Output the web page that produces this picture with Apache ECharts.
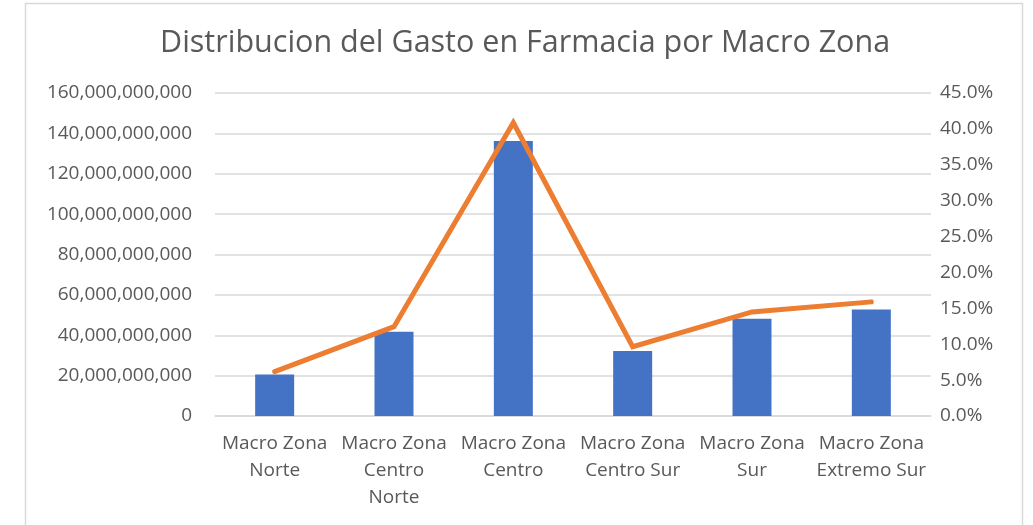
<!DOCTYPE html>
<html>
<head>
<meta charset="utf-8">
<script src="https://cdn.jsdelivr.net/npm/echarts@6/dist/echarts.min.js"></script>
<style>html,body{margin:0;padding:0;background:#fff}#c{width:1033px;height:525px}</style>
</head>
<body>
<div id="c"></div>
<script>
const categories = ['Macro Zona\nNorte', 'Macro Zona\nCentro\nNorte', 'Macro Zona\nCentro', 'Macro Zona\nCentro Sur', 'Macro Zona\nSur', 'Macro Zona\nExtremo Sur'];
const gasto = [20.6e9, 41.7e9, 136.2e9, 32.2e9, 48.2e9, 52.8e9];
const porcentaje = [0.0617, 0.1244, 0.4086, 0.0966, 0.145, 0.159];
const titleText = 'Distribucion del Gasto en Farmacia por Macro Zona';

const chart = echarts.init(document.getElementById('c'), null, {renderer: 'canvas'});
const font = '"Open Sans", sans-serif';
chart.setOption({
  animation: false,
  backgroundColor: '#fff',
  title: {
    text: titleText, left: 155, top: 23,
    textStyle: {fontFamily: font, fontSize: 30.5, fontWeight: 'normal', color: '#595959'}
  },
  graphic: [{
    type: 'rect', shape: {x: 25.5, y: 3.5, width: 997, height: 540},
    style: {fill: 'none', stroke: '#d9d9d9', lineWidth: 1.5}, silent: true
  }],
  grid: {left: 215, right: 102, top: 93, bottom: 109, containLabel: false},
  xAxis: {
    type: 'category', data: categories,
    axisLine: {lineStyle: {color: '#d9d9d9', width: 1.5}},
    axisTick: {show: false},
    axisLabel: {fontFamily: font, fontSize: 19, color: '#595959', lineHeight: 27, margin: 14, interval: 0}
  },
  yAxis: [{
    type: 'value', min: 0, max: 160e9, interval: 20e9,
    axisLine: {show: false}, axisTick: {show: false},
    splitLine: {lineStyle: {color: '#d9d9d9', width: 1.5}},
    axisLabel: {fontFamily: font, fontSize: 19, color: '#595959', margin: 23,
      formatter: v => v.toLocaleString('en-US')}
  }, {
    type: 'value', min: 0, max: 0.45, interval: 0.05,
    axisLine: {show: false}, axisTick: {show: false}, splitLine: {show: false},
    axisLabel: {fontFamily: font, fontSize: 19, color: '#595959', margin: 9,
      formatter: v => (v * 100).toFixed(1) + '%'}
  }],
  series: [{
    type: 'bar', data: gasto, yAxisIndex: 0, barWidth: 39,
    itemStyle: {color: '#4472C4'}
  }, {
    type: 'line', data: porcentaje, yAxisIndex: 1, symbol: 'none',
    lineStyle: {color: '#ED7D31', width: 5, cap: 'round', join: 'miter'}
  }]
});
</script>
</body>
</html>
